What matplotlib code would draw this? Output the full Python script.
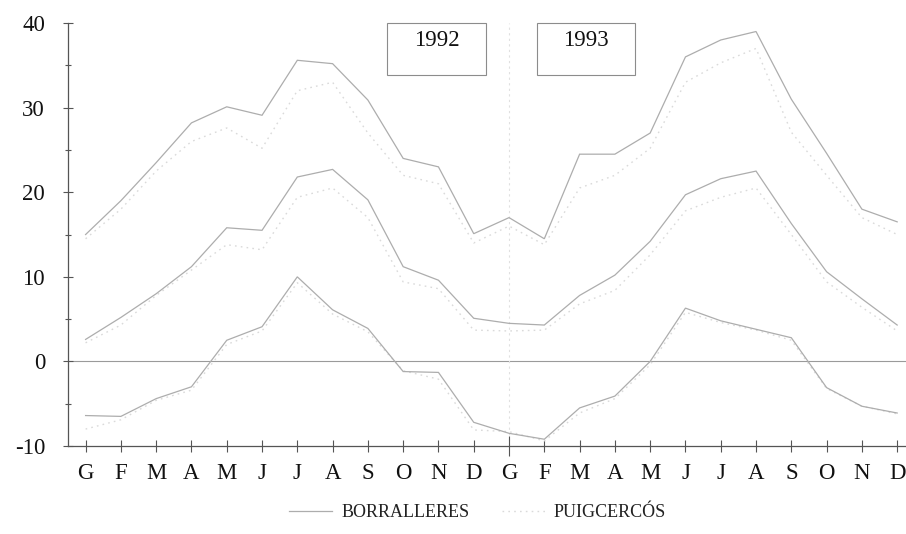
import matplotlib
matplotlib.use("Agg")
import matplotlib.pyplot as plt
from matplotlib.patches import Rectangle
import numpy as np

months = ["G", "F", "M", "A", "M", "J", "J", "A", "S", "O", "N", "D",
          "G", "F", "M", "A", "M", "J", "J", "A", "S", "O", "N", "D"]

borr_max = [15, 19, 23.5, 28.2, 30.1, 29.1, 35.6, 35.2, 30.9, 24, 23, 15.1,
            17, 14.5, 24.5, 24.5, 27, 36, 38, 39, 31, 24.6, 18, 16.5]
borr_mean = [2.6, 5.2, 8, 11.2, 15.8, 15.5, 21.8, 22.7, 19.1, 11.2, 9.6, 5.1,
             4.5, 4.3, 7.8, 10.2, 14.2, 19.7, 21.6, 22.5, 16.3, 10.6, 7.4, 4.3]
borr_min = [-6.4, -6.5, -4.4, -3, 2.5, 4.1, 10, 6.1, 3.9, -1.2, -1.3, -7.2,
            -8.5, -9.2, -5.5, -4.1, 0, 6.3, 4.8, 3.8, 2.8, -3.1, -5.3, -6.1]

puig_max = [14.5, 18, 22.5, 26, 27.6, 25.2, 32, 33, 27, 22, 21, 14,
            16, 13.8, 20.5, 22, 25.2, 33, 35.3, 37, 27.1, 22, 17, 15]
puig_mean = [2.2, 4.3, 7.8, 10.8, 13.8, 13.2, 19.4, 20.5, 17, 9.4, 8.6, 3.7,
             3.6, 3.7, 6.8, 8.4, 12.6, 17.8, 19.4, 20.5, 15, 9.4, 6.4, 3.6]
puig_min = [-8, -6.9, -4.6, -3.4, 2, 3.6, 9.3, 5.6, 3.5, -1.1, -2.1, -8.1,
            -8.3, -9.4, -6.1, -4.4, -0.4, 5.8, 4.6, 3.7, 2.5, -3.2, -5.3, -6.2]

years = ["1992", "1993"]
series_names = ["BORRALLERES", "PUIGCERCÓS"]

plt.rcParams['font.family'] = ['Liberation Serif', 'DejaVu Serif']

fig = plt.figure(figsize=(9.06, 5.34), dpi=100)
ax = fig.add_axes([0.075, 0.1648, 0.925, 0.792])

x = np.arange(len(months))
c_solid = "#adadad"
c_dot = "#dadada"

for i, s in enumerate([borr_max, borr_mean, borr_min]):
    ax.plot(x, s, color=c_solid, lw=0.9, solid_joinstyle='miter',
            label=series_names[0] if i == 0 else None, zorder=3)
for i, s in enumerate([puig_max, puig_mean, puig_min]):
    ax.plot(x, s, color=c_dot, lw=1.0, linestyle=(0, (1.2, 3.0)),
            label=series_names[1] if i == 0 else None, zorder=2)

ax.axhline(0, color="#9a9a9a", lw=0.8, zorder=1)
ax.axvline(12, color="#e0e0e0", lw=0.8, linestyle=(0, (2, 3)), zorder=1)

ax.set_xlim(-0.5, 23.25)
ax.set_ylim(-10, 40)

ax.set_xticks(x)
ax.set_xticklabels(months)
ax.set_yticks(np.arange(-10, 41, 10))
ax.set_yticklabels([str(v) for v in range(-10, 41, 10)])
ax.set_yticks(np.arange(-5, 40, 10), minor=True)

for sp in ["top", "right"]:
    ax.spines[sp].set_visible(False)
for sp in ["left", "bottom"]:
    ax.spines[sp].set_color("#555555")
    ax.spines[sp].set_linewidth(0.9)

ax.tick_params(axis="x", direction="inout", length=9, width=0.8, color="#555555",
               labelsize=16.5, pad=8, labelcolor="#111111")
ax.tick_params(axis="y", which="major", direction="inout", length=7, width=0.8,
               color="#555555", labelsize=16.5, pad=13, labelcolor="#111111")
ax.tick_params(axis="y", which="minor", direction="inout", length=4, width=0.8,
               color="#555555")
ax.xaxis.get_major_ticks()[12].tick1line.set_markersize(14)

# year boxes
boxes = [(8.53, 11.36), (12.78, 15.58)]
for (x0, x1), yr in zip(boxes, years):
    ax.add_patch(Rectangle((x0, 33.85), x1 - x0, 40 - 33.85, fill=False,
                           edgecolor="#8c8c8c", lw=0.8, clip_on=False, zorder=4))
    ax.text((x0 + x1) / 2, 37.9, yr, ha="center", va="center", fontsize=16.5,
            color="#111111", zorder=5)

leg = fig.legend(loc="center", bbox_to_anchor=(0.527, 0.04), ncol=2, frameon=False,
                 fontsize=13, handlelength=2.4, columnspacing=1.8, handletextpad=0.5)
for t in leg.get_texts():
    t.set_color("#222222")

fig.savefig("out.png", dpi=100)
